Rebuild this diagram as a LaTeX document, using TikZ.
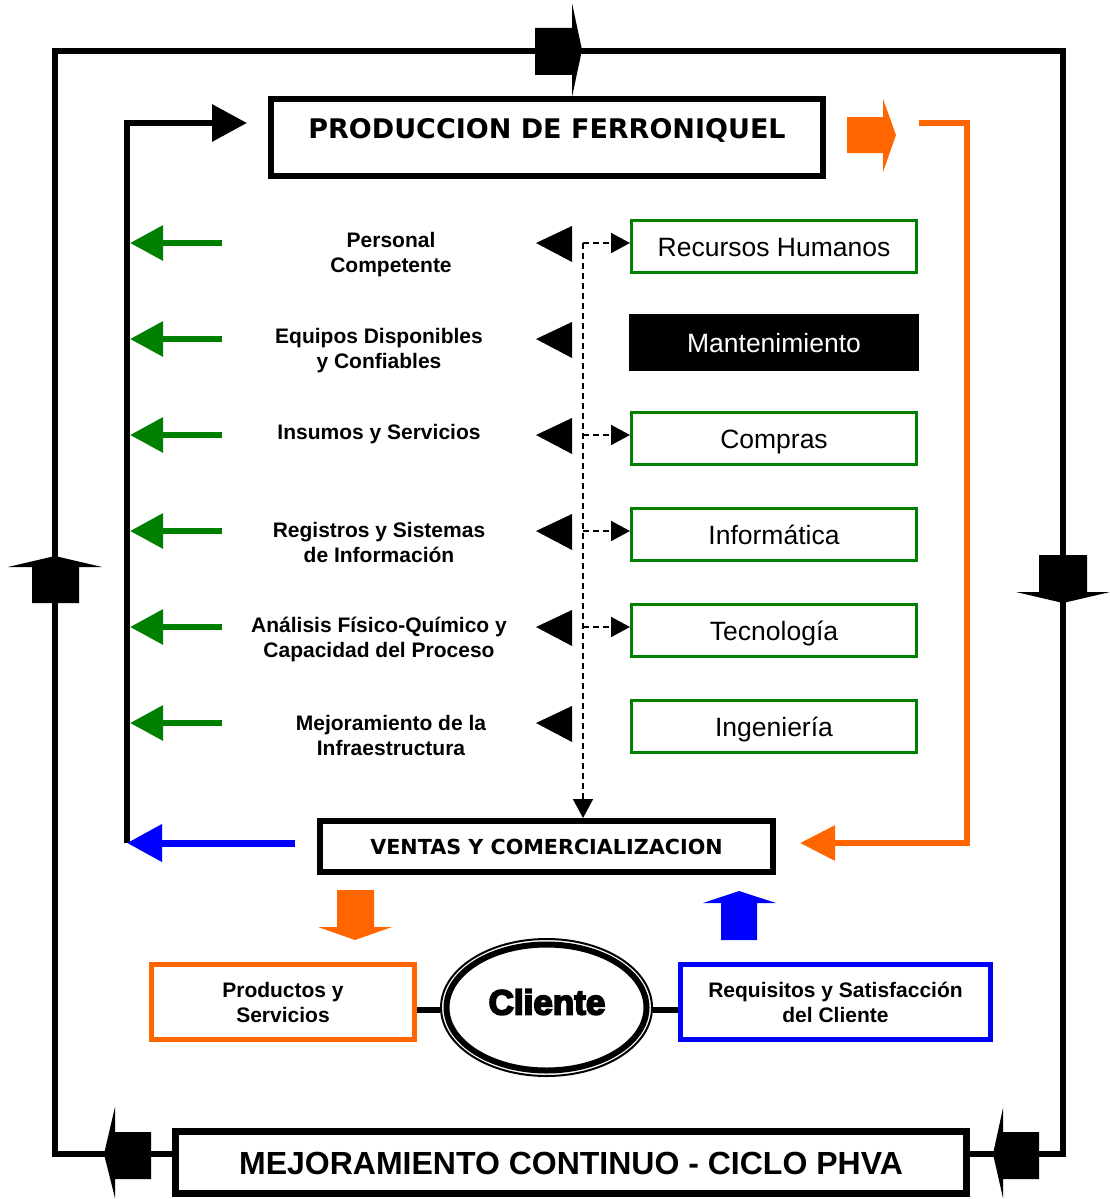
\documentclass[tikz,border=0pt]{standalone}
\usepackage{fontspec}
\setmainfont{Liberation Sans}
\newfontfamily\verdanafont{DejaVu Sans}
\newfontfamily\heavyfont[FakeBold=5]{Liberation Sans}
\usetikzlibrary{arrows.meta,calc}
\definecolor{fgreen}{RGB}{0,128,0}
\definecolor{forange}{RGB}{255,102,0}
\definecolor{fblue}{RGB}{0,0,255}
\begin{document}
\begin{tikzpicture}[x=1pt,y=-1pt,
  loopline/.style={line width=6pt,line join=miter},
  headbox/.style={draw,line width=6pt,inner sep=0pt,font=\verdanafont\bfseries},
  deptbox/.style={draw=fgreen,line width=3pt,minimum width=285pt,minimum height=52pt,
    inner sep=0pt,font=\fontsize{26.5}{30}\selectfont,text height=19pt,text depth=0pt},
  itemlabel/.style={font=\bfseries\fontsize{21}{25}\selectfont,align=center,inner sep=0pt},
  resultbox/.style={draw,line width=5pt,minimum width=263pt,minimum height=75pt,inner sep=0pt,
    font=\bfseries\fontsize{21}{25}\selectfont,align=center},
  greenarrow/.style={color=fgreen,line width=6pt,-{Triangle[length=33pt,width=34pt]}},
  dashlink/.style={line width=1.8pt,dash pattern=on 6pt off 4pt,-{Triangle[length=19pt,width=20pt]}},
  marker/.style={fill=black}
]
\useasboundingbox (0,0) rectangle (1110,1199);

% ---------- main boxes ----------
\node[headbox,minimum width=552pt,minimum height=77pt,
  font=\verdanafont\bfseries\fontsize{27}{30}\selectfont,text height=19.7pt,text depth=17pt]
  (prod) at (547,137.5) {PRODUCCION DE FERRONIQUEL};
\node[headbox,minimum width=453pt,minimum height=51pt,
  font=\verdanafont\bfseries\fontsize{20.7}{24}\selectfont,text height=15.1pt,text depth=0pt]
  (ventas) at (546.5,846.5) {VENTAS Y COMERCIALIZACION};
\node[draw,line width=7pt,minimum width=791pt,minimum height=62pt,inner sep=0pt,
  font=\bfseries\fontsize{32}{36}\selectfont,text height=23pt,text depth=0pt]
  (phva) at (571,1162.5) {MEJORAMIENTO CONTINUO - CICLO PHVA};

% ---------- supporting areas ----------
\node[deptbox] (rh) at (774,246.5) {Recursos Humanos};
\node[fill=black,minimum width=290pt,minimum height=57pt,inner sep=0pt,text=white,
  font=\fontsize{26.5}{30}\selectfont,text height=19pt,text depth=0pt]
  (mant) at (774,342.5) {Mantenimiento};
\node[deptbox] (compras) at (774,438.5) {Compras};
\node[deptbox] (info) at (774,534.5) {Informática};
\node[deptbox] (tecno) at (774,630.5) {Tecnología};
\node[deptbox] (ing) at (774,726.5) {Ingeniería};

% ---------- inputs ----------
\node[itemlabel] (l1) at (391,255) {Personal\\Competente};
\node[itemlabel] (l2) at (379,351) {Equipos Disponibles\\y Confiables};
\node[itemlabel] (l3) at (379,434.5) {Insumos y Servicios};
\node[itemlabel] (l4) at (379,542.5) {Registros y Sistemas\\de Información};
\node[itemlabel] (l5) at (379,639) {Análisis Físico-Químico y\\Capacidad del Proceso};
\node[itemlabel] (l6) at (391,735) {Mejoramiento de la\\Infraestructura};

\foreach \y in {243,339,435,531,627,723}{
  \draw[greenarrow] (222,\y) -- (130,\y);
  \fill[marker] (572,\y-17) -- (536,\y) -- (572,\y+19) -- cycle;
}

% ---------- dashed distribution bus ----------
\coordinate (b1) at (583,243);
\coordinate (b3) at (583,435);
\coordinate (b4) at (583,531);
\coordinate (b5) at (583,627);
\draw[dashlink] (b1) -- (ventas.north -| b1);
\draw[dashlink] (b1) -- (rh.west |- b1);
\draw[dashlink] (b3) -- (compras.west |- b3);
\draw[dashlink] (b4) -- (info.west |- b4);
\draw[dashlink] (b5) -- (tecno.west |- b5);

% ---------- inner loop ----------
\coordinate (lb) at (127,843);
\coordinate (lt) at (127,123);
\coordinate (lh) at (247,123);
\draw[line width=6.5pt,line join=miter,-{Triangle[length=35pt,width=36pt]}]
  (lb) -- (lt) -- (lh);
\coordinate (ot) at (919,123);
\coordinate (oc) at (967,123);
\draw[color=forange,line width=6pt,line join=miter,-{Triangle[length=35pt,width=34pt]}]
  (ot) -- (oc) -- (oc |- lb) -- ([xshift=24pt]ventas.east |- lb);
\draw[color=fblue,line width=7pt,-{Triangle[length=35pt,width=36pt]}]
  ([xshift=-22pt]ventas.west |- lb) -- (lb);
% orange block arrow next to the production box
\fill[forange] (847,117) -- (883,117) -- (883,99) -- (896,135) -- (883,172) -- (883,153) -- (847,153) -- cycle;

% ---------- client ----------
\node[font=\heavyfont\bfseries\fontsize{35}{38}\selectfont,text height=25pt,text depth=0pt,inner sep=0pt]
  (cliente) at (547,1002) {Cliente};
\draw[line width=2pt] (546.5,1007.5) ellipse [x radius=105.5, y radius=68.5];
\draw[line width=6pt] (546.5,1007.5) ellipse [x radius=100, y radius=63];
\node[resultbox,draw=forange] (prods) at (283,1002) {Productos y\\Servicios};
\node[resultbox,draw=fblue,minimum width=310pt] (req) at (835.5,1002) {Requisitos y Satisfacción\\del Cliente};
\coordinate (cw) at (440,1010);
\coordinate (ce) at (653,1010);
\draw[line width=6pt] (prods.east |- cw) -- (cw);
\draw[line width=6pt] (ce) -- (req.west |- ce);
% block arrows between sales and client
\fill[forange] (337,890) -- (374,890) -- (374,927) -- (392,927) -- (355,940) -- (318,927) -- (337,927) -- cycle;
\fill[fblue] (721,940) -- (757,940) -- (757,903) -- (776,903) -- (739,891) -- (703,903) -- (721,903) -- cycle;

% ---------- outer improvement loop ----------
\coordinate (yb) at (0,1154);
\draw[loopline] (phva.west |- yb) -- (55,1154) -- (55,51) -- (1063,51) -- (1063,1154) -- (phva.east |- yb);
% top (right)
\fill (535,28) -- (572,28) -- (572,3) -- (582,50) -- (572,97) -- (572,75) -- (535,75) -- cycle;
% left (up)
\fill (32,603) -- (32,567) -- (8,567) -- (55,556) -- (102,567) -- (79,567) -- (79,603) -- cycle;
% right (down)
\fill (1039,555) -- (1087,555) -- (1087,592) -- (1110,592) -- (1063,603) -- (1016,592) -- (1039,592) -- cycle;
% bottom left (left)
\fill (151,1132) -- (151,1179) -- (115,1179) -- (115,1198) -- (104,1154) -- (115,1107) -- (115,1132) -- cycle;
% bottom right (left)
\fill (1039,1132) -- (1039,1179) -- (1003,1179) -- (1003,1198) -- (993,1154) -- (1003,1108) -- (1003,1132) -- cycle;
\end{tikzpicture}
\end{document}
